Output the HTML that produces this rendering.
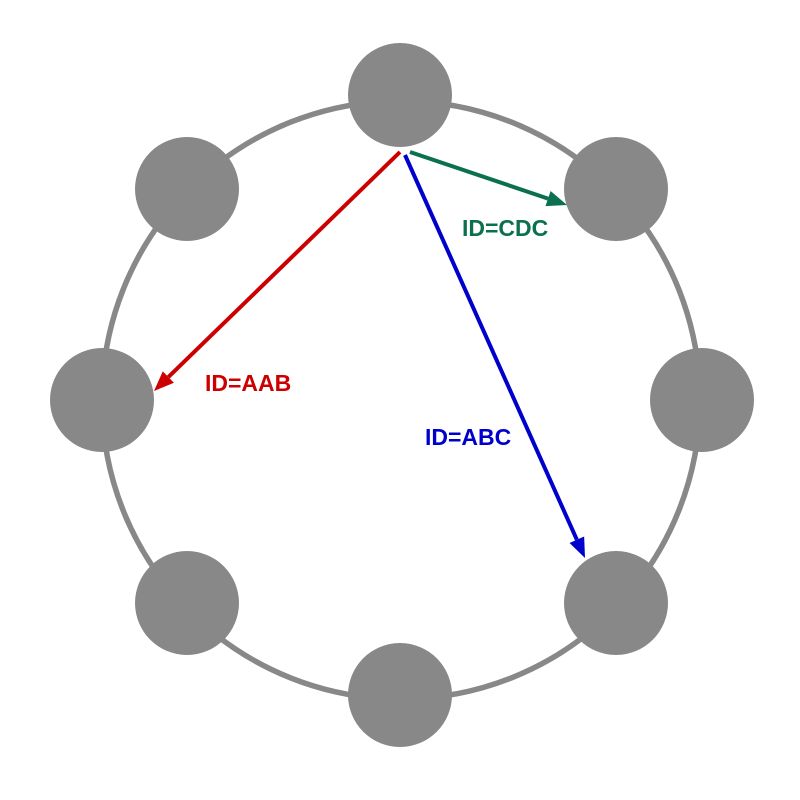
<!DOCTYPE html>
<html>
<head>
<meta charset="utf-8">
<style>
  html,body{margin:0;padding:0;background:#fff;}
  svg{display:block;}
  text{font-family:"Liberation Sans",Arial,sans-serif;font-weight:bold;font-size:23px;}
</style>
</head>
<body>
<svg id="chart" width="800" height="800" viewBox="0 0 800 800">
  <circle cx="401" cy="400" r="299" fill="none" stroke="#888888" stroke-width="5.5"/>
  <g id="nodes"></g>
  <g id="arrows"></g>
</svg>
<script>
const nodeX = [400, 616, 702, 616, 400, 187, 102, 187];
const nodeY = [95, 189, 400, 603, 695, 603, 400, 189];
const arrowIds = ["CDC", "AAB", "ABC"];
const arrowColors = ["#0a7050", "#cc0000", "#0000cc"];
const arrowStart = [[410,152],[400,152],[405,155]];
const arrowEnd = [[567,205],[154,391],[585,558]];
const labelPos = [[462,228],[205,383],[425,437]];

const NS = "http://www.w3.org/2000/svg";
const nr = 52;
const nodesG = document.getElementById("nodes");
nodeX.forEach((x, i) => {
  const c = document.createElementNS(NS, "circle");
  c.setAttribute("cx", x);
  c.setAttribute("cy", nodeY[i]);
  c.setAttribute("r", nr);
  c.setAttribute("fill", "#888888");
  
  
  nodesG.appendChild(c);
});

const arrowsG = document.getElementById("arrows");
arrowIds.forEach((id, i) => {
  const [x1, y1] = arrowStart[i], [x2, y2] = arrowEnd[i];
  const ang = Math.atan2(y2 - y1, x2 - x1);
  const hl = 20, hw = 8;
  const bx = x2 - hl * Math.cos(ang), by = y2 - hl * Math.sin(ang);
  const line = document.createElementNS(NS, "line");
  line.setAttribute("x1", x1); line.setAttribute("y1", y1);
  line.setAttribute("x2", bx); line.setAttribute("y2", by);
  line.setAttribute("stroke", arrowColors[i]);
  line.setAttribute("stroke-width", 4);
  
  
  arrowsG.appendChild(line);
  const head = document.createElementNS(NS, "polygon");
  const px = -Math.sin(ang) * hw, py = Math.cos(ang) * hw;
  head.setAttribute("points", `${x2},${y2} ${bx+px},${by+py} ${bx-px},${by-py}`);
  head.setAttribute("fill", arrowColors[i]);
  
  
  arrowsG.appendChild(head);
  const t = document.createElementNS(NS, "text");
  t.setAttribute("x", labelPos[i][0]);
  t.setAttribute("y", labelPos[i][1] + 8);
  t.setAttribute("fill", arrowColors[i]);
  t.textContent = "ID=" + id;
  
  
  arrowsG.appendChild(t);
});
</script>
</body>
</html>
